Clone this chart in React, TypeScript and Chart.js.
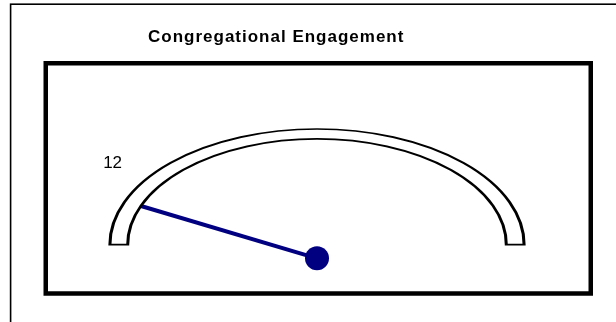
import React, { useEffect, useRef } from 'react';
import { Chart, registerables } from 'chart.js';

Chart.register(...registerables);

// ---- data ----
const TITLE = 'Congregational Engagement';
const GAUGE_MIN = 0;
const GAUGE_MAX = 100;
const GAUGE_VALUES = [12];
const VALUE_LABELS = ['12'];
const TRACK_DATA = [GAUGE_MAX - GAUGE_MIN];

// ---- layout / style ----
const WIDTH = 616;
const HEIGHT = 322;
const X_STRETCH = 1.79; // the dial is an ellipse: horizontal stretch of the circular doughnut
const TRACK_RADIUS = 115.7;
const TRACK_CUTOUT = '91.4%';
const NEEDLE_COLOR = '#000080';
const NEEDLE_WIDTH = 4;
const PIVOT_DROP = 13.6;
const PIVOT_RADIUS = 12;
const LABEL_RADIUS_FACTOR = 1.9;

const gaugePlugin = {
  id: 'gaugeDecor',
  beforeDraw(chart: any) {
    chart.ctx.letterSpacing = '1px';
  },
  beforeDatasetsDraw(chart: any) {
    const ctx = chart.ctx as CanvasRenderingContext2D;
    (ctx as any).letterSpacing = '0px';
    const arc = chart.getDatasetMeta(0).data[0];
    const { x, y, innerRadius, startAngle, endAngle } = arc.getProps(
      ['x', 'y', 'innerRadius', 'startAngle', 'endAngle'],
      true
    );
    // needle (drawn beneath the track so the track covers its tip)
    GAUGE_VALUES.forEach((v) => {
      const frac = (v - GAUGE_MIN) / (GAUGE_MAX - GAUGE_MIN);
      const a = startAngle + frac * (endAngle - startAngle);
      const r = innerRadius + 2;
      ctx.save();
      ctx.strokeStyle = NEEDLE_COLOR;
      ctx.lineWidth = NEEDLE_WIDTH;
      ctx.lineCap = 'butt';
      ctx.beginPath();
      ctx.moveTo(x, y + PIVOT_DROP);
      ctx.lineTo(x + X_STRETCH * r * Math.cos(a), y + r * Math.sin(a));
      ctx.stroke();
      ctx.restore();
    });
    ctx.save();
    ctx.translate(x, 0);
    ctx.scale(X_STRETCH, 1);
    ctx.translate(-x, 0);
  },
  afterDatasetsDraw(chart: any) {
    const ctx = chart.ctx as CanvasRenderingContext2D;
    ctx.restore();
    const arc = chart.getDatasetMeta(0).data[0];
    const { x, y, outerRadius, startAngle, endAngle } = arc.getProps(
      ['x', 'y', 'outerRadius', 'startAngle', 'endAngle'],
      true
    );
    GAUGE_VALUES.forEach((v, i) => {
      const frac = (v - GAUGE_MIN) / (GAUGE_MAX - GAUGE_MIN);
      const a = startAngle + frac * (endAngle - startAngle);
      // pivot
      ctx.save();
      ctx.fillStyle = NEEDLE_COLOR;
      ctx.beginPath();
      ctx.arc(x, y + PIVOT_DROP, PIVOT_RADIUS, 0, Math.PI * 2);
      ctx.fill();
      // value label
      const lr = outerRadius * LABEL_RADIUS_FACTOR;
      ctx.fillStyle = '#000000';
      ctx.font = '17px "Liberation Sans", Arial, sans-serif';
      ctx.textAlign = 'center';
      ctx.textBaseline = 'middle';
      ctx.fillText(VALUE_LABELS[i], x + lr * Math.cos(a), y + lr * Math.sin(a));
      ctx.restore();
    });
  },
  afterDraw(chart: any) {
    const ctx = chart.ctx as CanvasRenderingContext2D;
    ctx.save();
    ctx.strokeStyle = '#000000';
    ctx.lineWidth = 1.6;
    ctx.strokeRect(10.6, 4.2, 800, 600);
    ctx.lineWidth = 4.5;
    ctx.strokeRect(45.75, 63.25, 545, 230.25);
    ctx.restore();
  },
};

export default function App() {
  const canvasRef = useRef<HTMLCanvasElement | null>(null);

  useEffect(() => {
    if (!canvasRef.current) return;
    const chart = new Chart(canvasRef.current, {
      type: 'doughnut',
      data: {
        labels: [TITLE],
        datasets: [
          {
            data: TRACK_DATA,
            backgroundColor: '#ffffff',
            borderColor: '#000000',
            borderWidth: 1.7,
            borderJoinStyle: 'miter',
            hoverOffset: 0,
          } as any,
        ],
      },
      options: {
        responsive: false,
        animation: false,
        circumference: 180,
        rotation: -90,
        radius: TRACK_RADIUS,
        cutout: TRACK_CUTOUT,
        layout: {
          padding: { left: 148, right: 130, top: 0, bottom: HEIGHT - 244.7 },
        },
        plugins: {
          legend: { display: false },
          tooltip: { enabled: false },
          title: {
            display: true,
            text: TITLE,
            align: 'start',
            color: '#000000',
            font: { family: '"Liberation Sans", Arial, sans-serif', size: 17, weight: 'bold' },
            padding: { top: 27.4, bottom: 81.2 },
          },
        },
      } as any,
      plugins: [gaugePlugin],
    });
    return () => chart.destroy();
  }, []);

  return (
    <div style={{ position: 'fixed', left: 0, top: 0, width: WIDTH, height: HEIGHT, background: '#fff' }}>
      <canvas ref={canvasRef} width={WIDTH} height={HEIGHT} style={{ display: 'block' }} />
    </div>
  );
}
